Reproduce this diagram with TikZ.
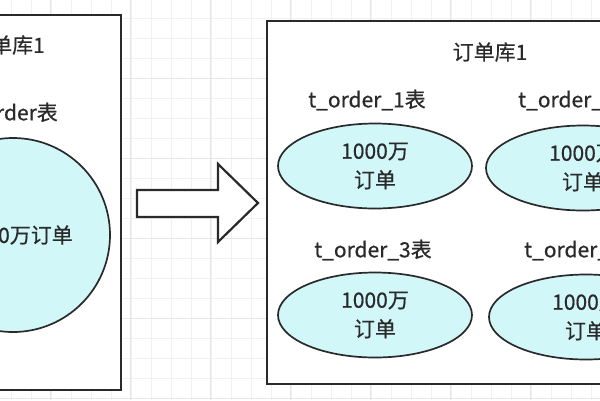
\documentclass[tikz,border=0pt]{standalone}
\usepackage{fontspec}
\setmainfont{Noto Sans CJK SC}[FakeBold=0.5]
\usetikzlibrary{shapes.geometric}
\definecolor{ink}{HTML}{2A2A2A}
\definecolor{cyanfill}{HTML}{D2F7F9}
\definecolor{gridc}{HTML}{F1F1F1}
\definecolor{gridm}{HTML}{E6E6E6}
\begin{document}
\begin{tikzpicture}[x=1pt,y=-1pt,
  box/.style={draw=ink, line width=2.2pt, fill=white, inner sep=0pt},
  shard/.style={draw=ink, line width=1.7pt, fill=cyanfill, ellipse, minimum width=194pt, minimum height=85pt, inner sep=0pt, align=center, text=ink, font=\fontsize{21}{29}\selectfont},
  lbl/.style={text=ink, font=\fontsize{21}{25}\selectfont, inner sep=0pt}]
\useasboundingbox (0,0) rectangle (600,400);
\clip (0,0) rectangle (600,400);
\fill[white] (0,0) rectangle (600,400);
% grid
\foreach \gx in {11,31,...,600} \draw[gridc, line width=0.8pt] (\gx,0) -- (\gx,400);
\foreach \gy in {18,38,...,400} \draw[gridc, line width=0.8pt] (0,\gy) -- (600,\gy);
\foreach \gx in {50,130,...,600} \draw[gridm, line width=0.8pt] (\gx,0) -- (\gx,400);
\foreach \gy in {78,158,...,400} \draw[gridm, line width=0.8pt] (0,\gy) -- (600,\gy);
% left database
\node (db0) [box, minimum width=131pt, minimum height=375pt] at (55.5,202.5) {};
\node (db0t) [lbl, anchor=east] at (45,45) {订单库1};
\node (tb0t) [lbl, anchor=east] at (58,113) {t\_order表};
\node (tb0) [draw=ink, line width=1.7pt, fill=cyanfill, circle, minimum size=194pt, inner sep=0pt] at (13,235) {};
\node (tb0c) [lbl, anchor=east] at (73,235) {1000万订单};
% arrow
\draw[draw=ink, line width=2.2pt, fill=white, line join=miter] (137,190) -- (218,190) -- (218,164) -- (258,203) -- (218,242) -- (218,217) -- (137,217) -- cycle;
% right database
\node (db1) [box, minimum width=353pt, minimum height=363pt] at (443.5,202.5) {};
\node (db1t) [lbl] at (490,52) {订单库1};
\node (t1t) [lbl] at (367,100) {t\_order\_1表};
\node (t2t) [lbl, anchor=west] at (518,100) {t\_order\_2表};
\node (t3t) [lbl] at (373,250) {t\_order\_3表};
\node (t4t) [lbl, anchor=west] at (524,250) {t\_order\_4表};
\node (t1) [shard] at (375,166) {1000万\\订单};
\node (t2) [shard] at (583,168) {1000万\\订单};
\node (t3) [shard] at (375,315) {1000万\\订单};
\node (t4) [shard] at (586,317) {1000万\\订单};
\end{tikzpicture}
\end{document}
